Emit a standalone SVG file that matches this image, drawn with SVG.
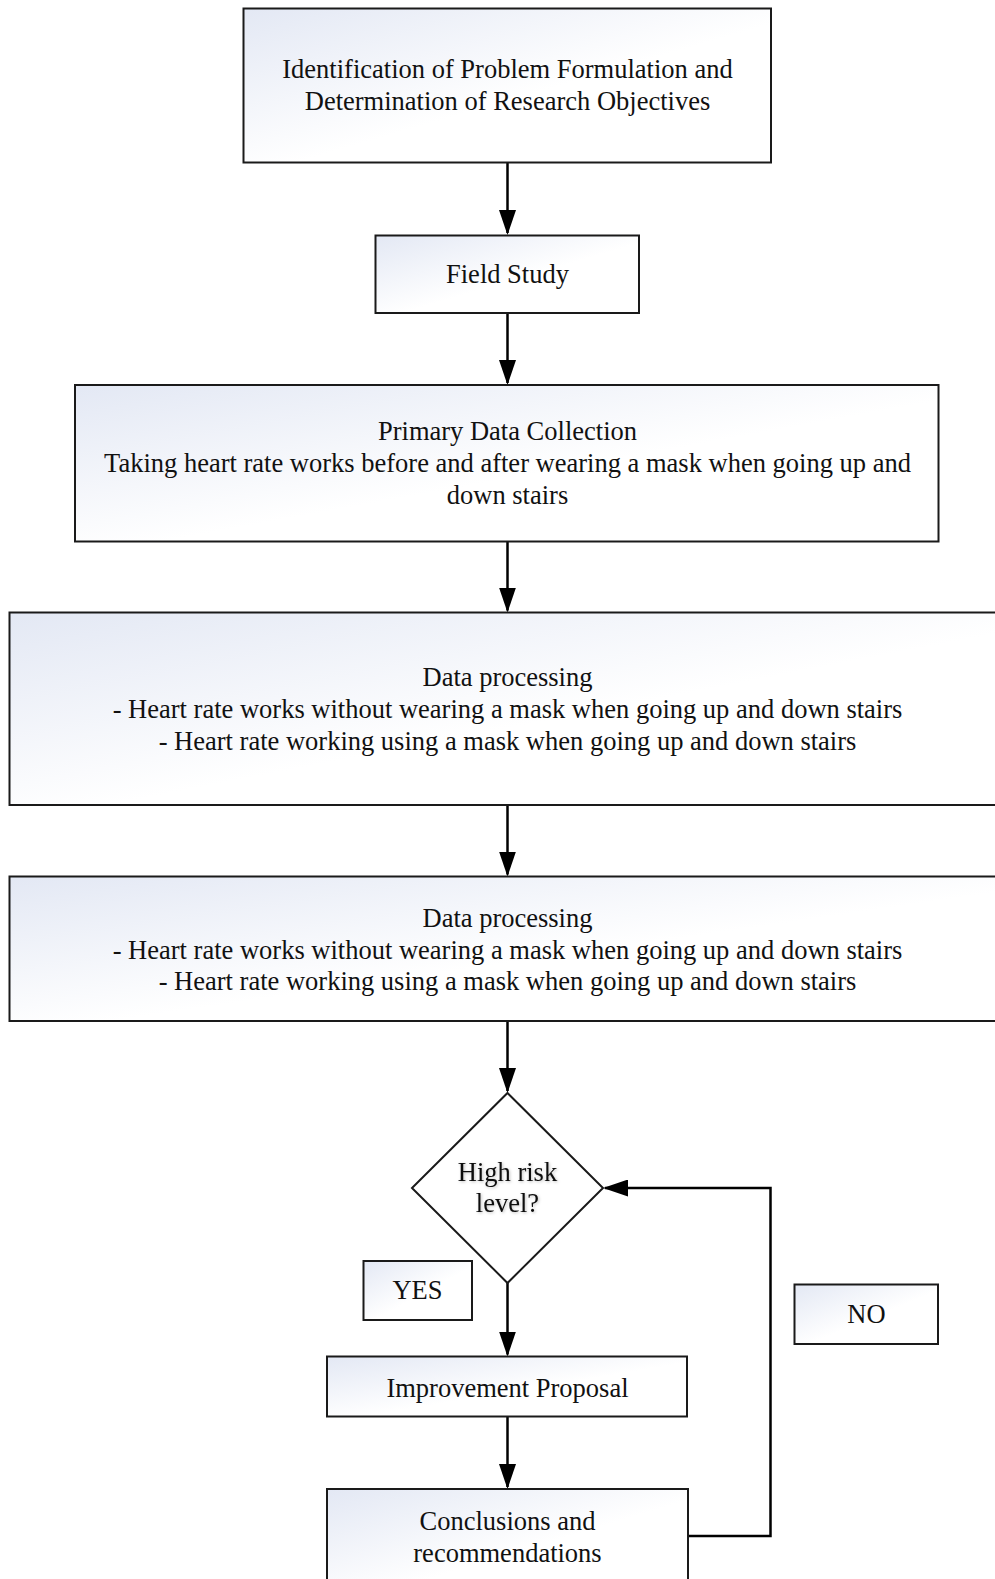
<svg xmlns="http://www.w3.org/2000/svg" width="995" height="1579" viewBox="0 0 995 1579">
<defs>
<linearGradient id="g" x1="0" y1="0" x2="1" y2="1">
<stop offset="0" stop-color="#e3e8f4"/>
<stop offset="0.55" stop-color="#ffffff"/>
<stop offset="1" stop-color="#ffffff"/>
</linearGradient>
<marker id="ah" markerWidth="25" markerHeight="17" refX="23" refY="8.5" orient="auto" markerUnits="userSpaceOnUse" viewBox="0 0 25 17">
<path d="M0,0 L25,8.5 L0,17 Z" fill="#000"/>
</marker>
<filter id="sh" x="-20%" y="-20%" width="140%" height="140%">
<feDropShadow dx="1" dy="1" stdDeviation="1.5" flood-color="#000" flood-opacity="0.25"/>
</filter>
</defs>
<style>
.box{fill:url(#g);stroke:#1a1a1a;stroke-width:2}
.t{font-family:"Liberation Serif","Times New Roman",serif;font-size:26.5px;fill:#111;text-anchor:middle}
.c{fill:none;stroke:#000;stroke-width:2.5;marker-end:url(#ah)}
</style>
<rect width="995" height="1579" fill="#fff"/>
<g id="connectors">
<path class="c" d="M507.5,163 V233"/>
<path class="c" d="M507.5,313 V383"/>
<path class="c" d="M507.5,541.5 V610.5"/>
<path class="c" d="M507.5,805 V874.5"/>
<path class="c" d="M507.5,1021 V1091"/>
<path class="c" d="M507.5,1283 V1354.5"/>
<path class="c" d="M507.5,1416.5 V1487"/>
<path class="c" d="M688,1536 H770.5 V1188 H605"/>
</g>
<g id="n1">
<rect class="box" x="243.5" y="8.5" width="527.5" height="154"/>
<text class="t" x="507.5" y="78">Identification of Problem Formulation and</text>
<text class="t" x="507.5" y="110">Determination of Research Objectives</text>
</g>
<g id="n2">
<rect class="box" x="375.5" y="235.5" width="263.5" height="77.5"/>
<text class="t" x="507.5" y="283">Field Study</text>
</g>
<g id="n3">
<rect class="box" x="75" y="385" width="863.5" height="156.5"/>
<text class="t" x="507.5" y="440">Primary Data Collection</text>
<text class="t" x="507.5" y="472">Taking heart rate works before and after wearing a mask when going up and</text>
<text class="t" x="507.5" y="504">down stairs</text>
</g>
<g id="n4">
<rect class="box" x="9.5" y="612.5" width="996" height="192.5"/>
<text class="t" x="507.5" y="686">Data processing</text>
<text class="t" x="507.5" y="718">- Heart rate works without wearing a mask when going up and down stairs</text>
<text class="t" x="507.5" y="750">- Heart rate working using a mask when going up and down stairs</text>
</g>
<g id="n5">
<rect class="box" x="9.5" y="876.5" width="996" height="144.5"/>
<text class="t" x="507.5" y="927">Data processing</text>
<text class="t" x="507.5" y="959">- Heart rate works without wearing a mask when going up and down stairs</text>
<text class="t" x="507.5" y="990">- Heart rate working using a mask when going up and down stairs</text>
</g>
<g id="n6">
<path d="M507.5,1093 L603,1188 L507.5,1283 L412,1188 Z" fill="#fff" stroke="#1a1a1a" stroke-width="2"/>
<g filter="url(#sh)">
<text class="t" x="507.5" y="1181">High risk</text>
<text class="t" x="507.5" y="1212">level?</text>
</g>
</g>
<g id="n7">
<rect class="box" x="363.5" y="1261" width="108.5" height="59"/>
<text class="t" x="417.5" y="1299">YES</text>
</g>
<g id="n8">
<rect class="box" x="794.5" y="1284.5" width="143.5" height="59.5"/>
<text class="t" x="866.5" y="1323">NO</text>
</g>
<g id="n9">
<rect class="box" x="327" y="1356.5" width="360" height="60"/>
<text class="t" x="507.5" y="1397">Improvement Proposal</text>
</g>
<g id="n10">
<rect class="box" x="327" y="1489" width="361" height="110"/>
<text class="t" x="507.5" y="1530">Conclusions and</text>
<text class="t" x="507.5" y="1562">recommendations</text>
</g>
</svg>
